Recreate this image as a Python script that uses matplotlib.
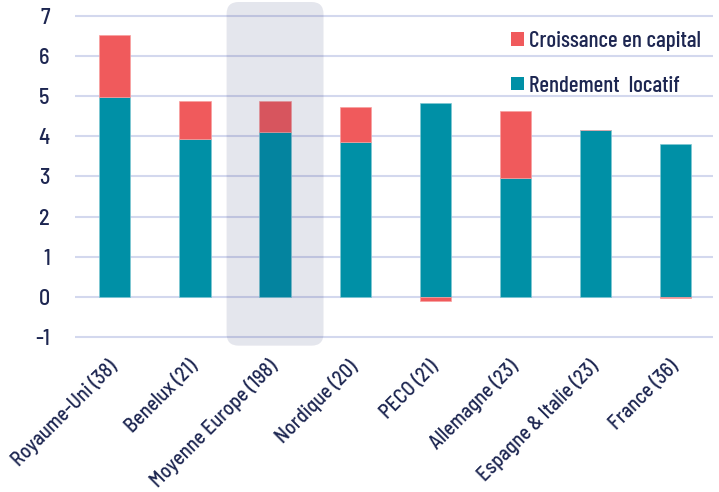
import matplotlib
matplotlib.use("Agg")
import matplotlib.pyplot as plt
from matplotlib.patches import FancyBboxPatch, Patch
import numpy as np

plt.rcParams['font.family'] = ['Barlow Semi Condensed', 'Roboto Condensed', 'DejaVu Sans']
plt.rcParams['font.weight'] = 500

regions = ["Royaume-Uni (38)", "Benelux (21)", "Moyenne Europe (198)", "Nordique (20)",
           "PECO (21)", "Allemagne (23)", "Espagne & Italie (23)", "France (36)"]
rendement = [4.98, 3.94, 4.10, 3.86, 4.83, 2.97, 4.15, 3.82]
croissance = [1.54, 0.94, 0.78, 0.88, -0.11, 1.65, 0.0, -0.04]
yticks = [-1, 0, 1, 2, 3, 4, 5, 6, 7]

teal = "#0090a6"
rouge = "#f05a5c"
navy = "#1d2651"
grille = "#d3d8ee"

fig = plt.figure(figsize=(7.19, 4.92), dpi=100)
ax = fig.add_axes([0.104, 0.295, 0.888, 0.705])

x = np.arange(len(regions))
rendement = np.array(rendement)
croissance = np.array(croissance)
base = np.where(croissance >= 0, rendement, 0)

ax.bar(x, rendement, width=0.39, color=teal, edgecolor="#7fc8d3", linewidth=0.5, zorder=3)
ax.bar(x, croissance, bottom=base, width=0.39, color=rouge, edgecolor="#f7a0a0", linewidth=0.5, zorder=3)

# mise en avant de la moyenne européenne
box = FancyBboxPatch((2 - 0.605, -1.22), 1.21, 8.57,
                     boxstyle="round,pad=0,rounding_size=0.15", mutation_aspect=2.0,
                     facecolor=(40 / 255, 50 / 255, 110 / 255), alpha=0.12,
                     edgecolor="none", zorder=4)
ax.add_patch(box)

ax.set_xlim(-0.5, 7.47)
ax.set_ylim(-1.25, 7.4)
ax.set_yticks(yticks)
ax.set_yticklabels([str(v) for v in yticks])
ax.yaxis.grid(True, color=grille, linewidth=1.5, zorder=0)
ax.set_axisbelow(True)
for s in ax.spines.values():
    s.set_visible(False)

ax.set_xticks(x)
ax.set_xticklabels(regions, rotation=45, ha="right", va="center", rotation_mode="anchor")
ax.tick_params(axis="x", length=0, pad=12, labelsize=14.5, labelcolor=navy)
ax.tick_params(axis="y", length=0, pad=18, labelsize=16, labelcolor=navy)

handles = [Patch(facecolor=rouge, label="Croissance en capital"),
           Patch(facecolor=teal, label="Rendement  locatif")]
leg = ax.legend(handles=handles, loc="upper left", bbox_to_anchor=(0.682, 0.978),
                bbox_transform=fig.transFigure, frameon=False,
                prop={"family": ["Barlow Condensed", "DejaVu Sans"], "size": 16.5, "weight": 500},
                handlelength=0.55, handleheight=0.55, handletextpad=0.25, labelspacing=1.05)
for t in leg.get_texts():
    t.set_color(navy)

fig.savefig("out.png", dpi=100)
